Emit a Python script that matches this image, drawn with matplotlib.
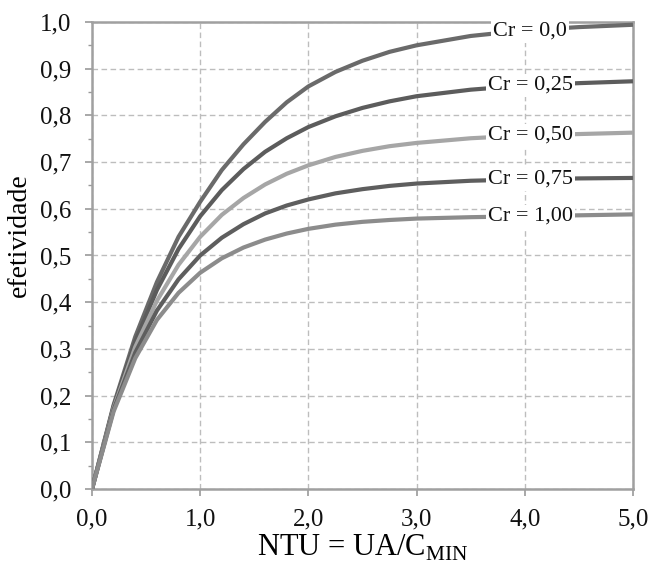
import numpy as np
import matplotlib
matplotlib.use("Agg")
import matplotlib.pyplot as plt
from matplotlib.ticker import MultipleLocator

plt.rcParams["font.family"] = ["Liberation Serif", "DejaVu Serif"]
plt.rcParams["mathtext.fontset"] = "custom"
plt.rcParams["mathtext.rm"] = "Liberation Serif"

# NTU values and effectiveness
ntu = [0, 0.2, 0.4, 0.6, 0.8, 1.0, 1.2, 1.4, 1.6, 1.8, 2.0,
       2.25, 2.5, 2.75, 3.0, 3.5, 4.0, 4.5, 5.0]
eff_00 = [0, 0.180, 0.326, 0.443, 0.540, 0.615, 0.683, 0.738, 0.786, 0.828, 0.862,
          0.893, 0.917, 0.936, 0.950, 0.970, 0.982, 0.989, 0.994]
eff_025 = [0, 0.177, 0.316, 0.426, 0.514, 0.584, 0.640, 0.685, 0.722, 0.751, 0.775,
           0.798, 0.816, 0.830, 0.841, 0.855, 0.864, 0.869, 0.873]
eff_050 = [0, 0.173, 0.304, 0.403, 0.480, 0.540, 0.587, 0.623, 0.652, 0.675, 0.693,
           0.711, 0.724, 0.734, 0.741, 0.751, 0.757, 0.760, 0.763]
eff_075 = [0, 0.170, 0.292, 0.382, 0.449, 0.500, 0.538, 0.567, 0.590, 0.607, 0.620,
           0.633, 0.642, 0.649, 0.654, 0.660, 0.663, 0.665, 0.666]
eff_100 = [0, 0.166, 0.280, 0.362, 0.420, 0.463, 0.494, 0.517, 0.534, 0.547, 0.557,
           0.566, 0.572, 0.576, 0.579, 0.582, 0.584, 0.586, 0.588]

series = [eff_00, eff_025, eff_050, eff_075, eff_100]
labels = ["Cr = 0,0", "Cr = 0,25", "Cr = 0,50", "Cr = 0,75", "Cr = 1,00"]
colors = ["#6a6a6a", "#5c5c5c", "#a6a6a6", "#5e5e5e", "#8c8c8c"]
label_y = [0.980, 0.864, 0.757, 0.663, 0.584]

xticks = [0, 1, 2, 3, 4, 5]
xtick_labels = ["0,0", "1,0", "2,0", "3,0", "4,0", "5,0"]
yticks = [0, 0.1, 0.2, 0.3, 0.4, 0.5, 0.6, 0.7, 0.8, 0.9, 1.0]
ytick_labels = ["0,0", "0,1", "0,2", "0,3", "0,4", "0,5", "0,6", "0,7", "0,8", "0,9", "1,0"]

fig = plt.figure(figsize=(6.51, 5.78), dpi=100)
ax = fig.add_axes([0.1413, 0.154, 0.831, 0.808])

for y, lab, c, ly in zip(series, labels, colors, label_y):
    ax.plot(ntu, y, color=c, lw=3, solid_capstyle="butt", zorder=3)
    ax.text(4.05, ly, lab, ha="center", va="center", fontsize=16, color="#111111",
            bbox=dict(facecolor="white", edgecolor="none", pad=1.5), zorder=4)

ax.set_xlim(0, 5)
ax.set_ylim(0, 1)
ax.set_xticks(xticks)
ax.set_xticklabels(xtick_labels)
ax.set_yticks(yticks)
ax.set_yticklabels(ytick_labels)
ax.yaxis.set_minor_locator(MultipleLocator(0.05))
ax.tick_params(axis="both", which="major", labelsize=18, colors="#999999",
               labelcolor="#111111", length=5, width=1.2)
ax.tick_params(axis="x", which="major", pad=9)
ax.tick_params(axis="y", which="major", pad=10)
ax.tick_params(axis="y", which="minor", length=3, width=1, colors="#999999")

ax.grid(True, which="major", ls=(0, (4, 2.5)), color="#bdbdbd", lw=1, zorder=1)
for s in ax.spines.values():
    s.set_color("#a0a0a0")
    s.set_linewidth(1.8)

ax.set_xlabel(r"NTU = UA/C$_{\mathrm{MIN}}$", fontsize=22, labelpad=2)
ax.set_ylabel("efetividade", fontsize=20)
ax.yaxis.set_label_coords(-0.111, 0.544)

fig.savefig("out.png", dpi=100)
